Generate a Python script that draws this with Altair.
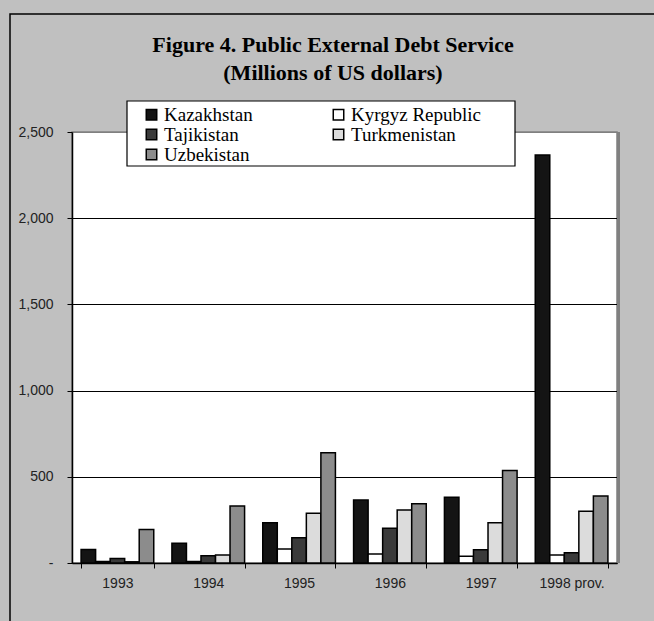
import altair as alt
import pandas as pd

years = ["1993", "1994", "1995", "1996", "1997", "1998 prov."]
countries = ["Kazakhstan", "Kyrgyz Republic", "Tajikistan", "Turkmenistan", "Uzbekistan"]
legend_order = ["Kazakhstan", "Tajikistan", "Uzbekistan", "Kyrgyz Republic", "Turkmenistan"]
kazakhstan = [78, 114, 234, 365, 382, 2367]
kyrgyz = [9, 9, 81, 52, 39, 47]
tajikistan = [26, 42, 147, 201, 77, 59]
turkmenistan = [7, 46, 288, 307, 233, 300]
uzbekistan = [195, 331, 640, 344, 536, 388]
series = [kazakhstan, kyrgyz, tajikistan, turkmenistan, uzbekistan]
fills = ["#141414", "#ffffff", "#3a3a3a", "#dcdcdc", "#8c8c8c"]
title_lines = ["Figure 4. Public External Debt Service", "(Millions of US dollars)"]

rows = []
for i, yr in enumerate(years):
    for c, vals in zip(countries, series):
        rows.append({"year": yr, "country": c, "value": vals[i]})
df = pd.DataFrame(rows)

W, H = 545, 431

bars = alt.Chart(df).mark_bar(stroke="black", strokeWidth=1.5).encode(
    x=alt.X("year:N", sort=years,
            scale=alt.Scale(paddingInner=0.2, paddingOuter=0.1),
            axis=alt.Axis(title=None, labelAngle=0, tickBand="extent",
                          domainColor="black", domainWidth=1.5,
                          tickColor="black", tickSize=5,
                          labelFont="Liberation Sans", labelFontSize=14,
                          labelColor="#222222", labelPadding=8, grid=False)),
    xOffset=alt.XOffset("country:N", sort=countries,
                        scale=alt.Scale(paddingInner=0, paddingOuter=0)),
    y=alt.Y("value:Q", scale=alt.Scale(domain=[0, 2500], nice=False),
            axis=alt.Axis(title=None, values=[0, 500, 1000, 1500, 2000, 2500],
                          labelExpr="datum.value == 0 ? '-' : format(datum.value, ',')",
                          grid=True,
                          gridColor={"condition": {"test": "datum.value >= 2500", "value": "#808080"}, "value": "#000000"},
                          gridWidth=1,
                          domainColor="black", domainWidth=1.5,
                          tickColor="black", tickSize=5,
                          labelFont="Liberation Sans", labelFontSize=14,
                          labelColor="#222222", labelPadding=14)),
    color=alt.Color("country:N", sort=countries,
                    scale=alt.Scale(domain=countries, range=fills),
                    legend=alt.Legend(orient="none", legendX=70, legendY=-27,
                                      columns=2, columnPadding=76, rowPadding=0,
                                      values=legend_order,
                                      title=None, symbolType="square", symbolSize=110,
                                      symbolStrokeColor="black", symbolStrokeWidth=1.5,
                                      symbolOpacity=1,
                                      labelFont="Liberation Serif", labelFontSize=19,
                                      labelColor="black", labelOffset=3)),
)

deco = alt.Chart(pd.DataFrame({"d": [0]}))
shadow = deco.mark_rule(color="#808080", strokeWidth=3).encode(
    x=alt.value(W + 1.5), y=alt.value(0), y2=alt.value(H))
legend_box = deco.mark_rect(fill="white", stroke="black", strokeWidth=1.2).encode(
    x=alt.value(55), x2=alt.value(443), y=alt.value(-31), y2=alt.value(34))
frame = deco.mark_rect(fill="white", fillOpacity=0, stroke="black", strokeWidth=1.5).encode(
    x=alt.value(-62), x2=alt.value(595), y=alt.value(-118), y2=alt.value(500))
title1 = deco.mark_text(text=title_lines[0], font="Liberation Serif", fontSize=22,
                        fontWeight="bold", color="black", align="center",
                        baseline="middle").encode(x=alt.value(333 - 72), y=alt.value(45 - 132))
title2 = deco.mark_text(text=title_lines[1], font="Liberation Serif", fontSize=22,
                        fontWeight="bold", color="black", align="center",
                        baseline="middle").encode(x=alt.value(333 - 72), y=alt.value(73 - 132))

chart = alt.layer(bars, shadow, legend_box, frame, title1, title2).properties(
    width=W, height=H,
    background="#c0c0c0",
    padding={"left": 72, "top": 132, "right": 37, "bottom": 58},
    autosize="none",
).configure_view(fill="white", stroke="#808080", strokeWidth=1.5)

chart.save("out.html", embed_options={"renderer": "svg", "actions": False})
